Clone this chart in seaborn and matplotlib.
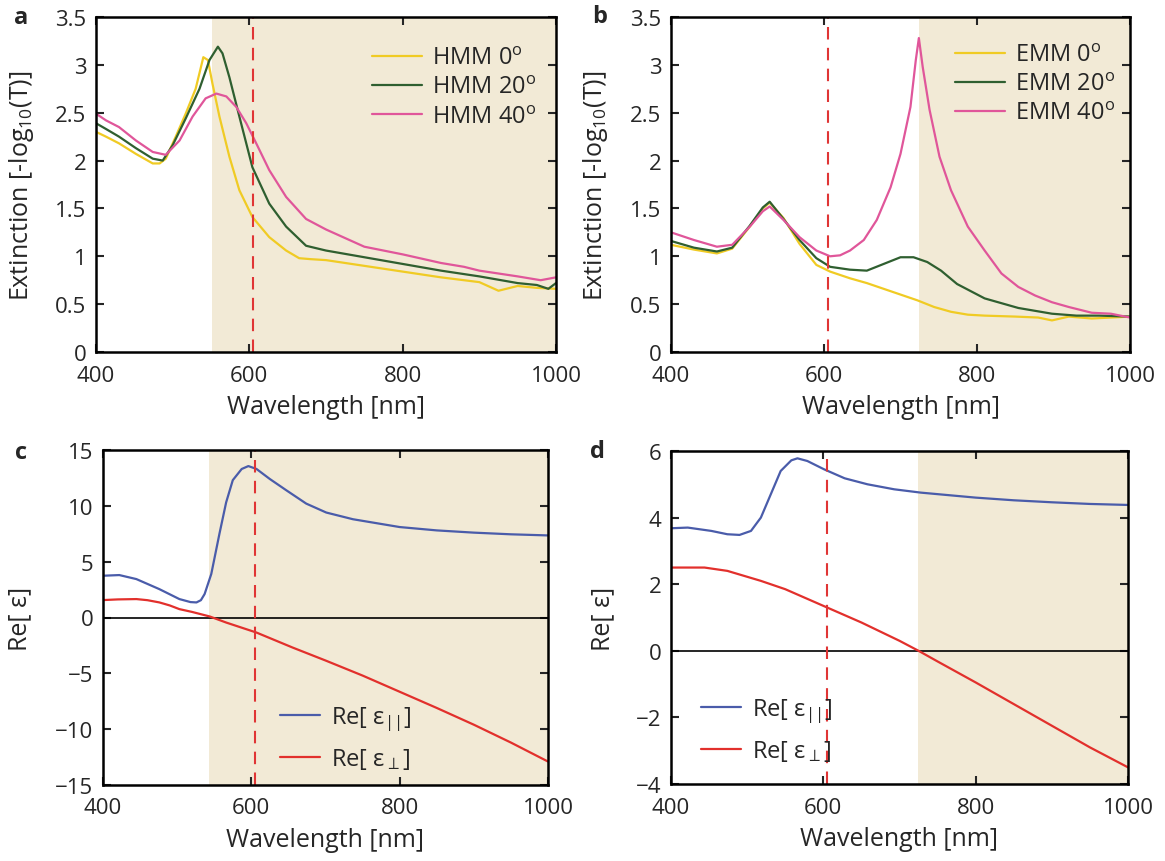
import matplotlib
matplotlib.use("Agg")
import matplotlib.pyplot as plt
import seaborn as sns

# --- panel a: HMM extinction
wl_a = [400, 413, 430, 452, 474, 483, 491, 504, 517, 530, 540, 546, 552, 561, 574, 587, 604, 626, 648, 665,
        680, 700, 750, 800, 850, 900, 925, 950, 975, 1000]
hmm0 = [2.30, 2.25, 2.18, 2.07, 1.97, 1.97, 2.02, 2.25, 2.49, 2.75, 3.08, 3.05, 2.80, 2.46, 2.04, 1.69, 1.41, 1.20, 1.06, 0.98,
        0.97, 0.96, 0.90, 0.84, 0.78, 0.73, 0.64, 0.69, 0.67, 0.66]
wl_a2 = [400, 413, 430, 452, 474, 487, 500, 517, 535, 548, 559, 565, 574, 587, 604, 626, 648, 674, 700, 750,
         800, 850, 900, 950, 975, 990, 1000]
hmm20 = [2.39, 2.33, 2.25, 2.13, 2.02, 2.00, 2.16, 2.44, 2.75, 3.05, 3.19, 3.12, 2.87, 2.46, 1.93, 1.55, 1.31, 1.11, 1.06, 0.99,
         0.92, 0.85, 0.79, 0.72, 0.70, 0.66, 0.72]
wl_a3 = [400, 413, 430, 452, 474, 491, 509, 526, 543, 557, 570, 583, 596, 609, 626, 648, 674, 700, 750, 800,
         850, 880, 900, 950, 980, 1000]
hmm40 = [2.49, 2.42, 2.35, 2.21, 2.09, 2.06, 2.21, 2.46, 2.65, 2.70, 2.67, 2.56, 2.39, 2.18, 1.90, 1.62, 1.39, 1.28, 1.10, 1.02,
         0.93, 0.89, 0.85, 0.79, 0.75, 0.78]

# --- panel b: EMM extinction
wl_b = [400, 430, 460, 480, 503, 520, 529, 547, 568, 590, 608, 634, 656, 678, 700, 722, 744, 766, 788, 810,
        850, 880, 898, 920, 950, 1000]
emm0 = [1.12, 1.07, 1.03, 1.08, 1.31, 1.50, 1.56, 1.40, 1.13, 0.91, 0.84, 0.77, 0.72, 0.66, 0.60, 0.54, 0.47, 0.42, 0.39, 0.38,
        0.37, 0.36, 0.33, 0.37, 0.35, 0.37]
wl_b2 = [400, 430, 460, 480, 503, 520, 529, 547, 568, 590, 608, 634, 656, 678, 700, 717, 735, 753, 774, 810,
         854, 898, 930, 960, 1000]
emm20 = [1.16, 1.09, 1.05, 1.09, 1.32, 1.51, 1.57, 1.39, 1.17, 0.98, 0.89, 0.86, 0.85, 0.92, 0.99, 0.99, 0.94, 0.85, 0.71, 0.56,
         0.46, 0.40, 0.38, 0.38, 0.37]
wl_b3 = [400, 430, 460, 480, 503, 520, 529, 547, 568, 590, 608, 621, 634, 652, 669, 687, 700, 713, 720, 724,
         729, 738, 751, 766, 788, 810, 832, 854, 876, 898, 920, 950, 975, 1000]
emm40 = [1.25, 1.17, 1.10, 1.12, 1.31, 1.47, 1.52, 1.38, 1.20, 1.06, 1.00, 1.01, 1.06, 1.17, 1.38, 1.72, 2.07, 2.56, 3.05, 3.28,
         2.98, 2.53, 2.04, 1.69, 1.31, 1.06, 0.82, 0.68, 0.59, 0.52, 0.47, 0.41, 0.40, 0.36]

# --- panel c: HMM permittivity
wl_c = [400, 422, 445, 476, 503, 518, 526, 532, 537, 546, 557, 566, 575, 587, 596, 607, 625, 647, 674, 701,
        737, 800, 850, 900, 950, 1000]
par_c = [3.74, 3.80, 3.44, 2.54, 1.65, 1.38, 1.35, 1.55, 2.10, 3.90, 7.50, 10.30, 12.30, 13.30, 13.56, 13.30, 12.40, 11.40, 10.20, 9.40,
         8.80, 8.10, 7.80, 7.60, 7.45, 7.35]
wl_c2 = [400, 420, 445, 460, 476, 490, 503, 520, 544, 566, 607, 656, 700, 750, 800, 850, 900, 950, 1000]
perp_c = [1.56, 1.62, 1.65, 1.55, 1.35, 1.08, 0.75, 0.50, 0.09, -0.45, -1.35, -2.70, -3.85, -5.20, -6.65, -8.10, -9.60, -11.20, -12.90]

# --- panel d: EMM permittivity
wl_d = [400, 422, 453, 474, 490, 505, 518, 531, 544, 558, 566, 579, 601, 628, 658, 693, 728, 800, 850, 900,
        950, 1000]
par_d = [3.68, 3.70, 3.60, 3.50, 3.48, 3.60, 4.00, 4.70, 5.40, 5.72, 5.78, 5.70, 5.45, 5.18, 5.00, 4.85, 4.75, 4.60, 4.52, 4.46,
         4.41, 4.38]
wl_d2 = [400, 444, 474, 518, 550, 600, 650, 700, 725, 750, 800, 850, 900, 950, 1000]
perp_d = [2.50, 2.50, 2.40, 2.10, 1.85, 1.35, 0.85, 0.30, 0.00, -0.32, -0.95, -1.60, -2.25, -2.90, -3.50]

shade_start = {"a": 551, "b": 724, "c": 543, "d": 724}
dash_x = 605

sns.set_style("ticks")
plt.rcParams["font.family"] = ["Open Sans", "DejaVu Sans"]
plt.rcParams["mathtext.fontset"] = "custom"
plt.rcParams["mathtext.rm"] = "Open Sans"
plt.rcParams["mathtext.it"] = "Open Sans"
plt.rcParams["xtick.direction"] = "in"
plt.rcParams["ytick.direction"] = "in"

yellow, green, pink = "#f0cb24", "#2f5f30", "#e0569a"
blue, red = "#4a5caa", "#e2302c"
shade = "#f2ead6"

W, H = 1165, 862
fig = plt.figure(figsize=(W / 100, H / 100), dpi=100)


def add_ax(l, t, r, b):
    return fig.add_axes([l / W, 1 - b / H, (r - l) / W, (b - t) / H])


ax_a = add_ax(96, 18, 556, 353)
ax_b = add_ax(671, 18, 1130, 353)
ax_c = add_ax(103, 451, 548, 786)
ax_d = add_ax(671, 452, 1128, 785)


def style(ax, ylim, yticks, yticklabels, ylabel, shade_x, ylab_x):
    ax.axvspan(shade_x, 1000, color=shade, lw=0, zorder=0)
    ax.axvline(dash_x, color="#e03535", ls=(0, (6, 4)), lw=1.5, zorder=3)
    ax.set_xlim(400, 1000)
    ax.set_ylim(*ylim)
    ax.set_xticks([400, 600, 800, 1000])
    ax.set_yticks(yticks)
    ax.set_yticklabels(yticklabels)
    ax.tick_params(labelsize=16, length=6, width=1.5, top=True, right=True)
    ax.tick_params(axis="x", pad=9)
    ax.tick_params(axis="y", pad=7)
    for s in ax.spines.values():
        s.set_linewidth(1.8)
        s.set_color("black")
        s.set_zorder(5)
    ax.set_xlabel("Wavelength [nm]", fontsize=18)
    ax.set_ylabel(ylabel, fontsize=18)
    ax.xaxis.set_label_coords(0.5, -0.125)
    ax.yaxis.set_label_coords(ylab_x, 0.5)


ext_label = "Extinction [-log$_{10}$(T)]"
ext_ticks = [0, 0.5, 1, 1.5, 2, 2.5, 3, 3.5]
ext_tlabels = ["0", "0.5", "1", "1.5", "2", "2.5", "3", "3.5"]
leg_kw = dict(frameon=False, fontsize=17, handlelength=2.1, handletextpad=0.45,
              borderpad=0, borderaxespad=0)

# panel a
for x, y, c, lab in [(wl_a, hmm0, yellow, "HMM 0$^\\mathrm{o}$"), (wl_a2, hmm20, green, "HMM 20$^\\mathrm{o}$"),
                     (wl_a3, hmm40, pink, "HMM 40$^\\mathrm{o}$")]:
    sns.lineplot(x=x, y=y, ax=ax_a, color=c, lw=1.6, label=lab)
style(ax_a, (0, 3.5), ext_ticks, ext_tlabels, ext_label, shade_start["a"], -0.13)
ax_a.legend(loc="center left", bbox_to_anchor=(0.6, 0.79), labelspacing=0.22, **leg_kw)

# panel b
for x, y, c, lab in [(wl_b, emm0, yellow, "EMM 0$^\\mathrm{o}$"), (wl_b2, emm20, green, "EMM 20$^\\mathrm{o}$"),
                     (wl_b3, emm40, pink, "EMM 40$^\\mathrm{o}$")]:
    sns.lineplot(x=x, y=y, ax=ax_b, color=c, lw=1.6, label=lab)
style(ax_b, (0, 3.5), ext_ticks, ext_tlabels, ext_label, shade_start["b"], -0.133)
ax_b.legend(loc="center left", bbox_to_anchor=(0.619, 0.80), labelspacing=0.22, **leg_kw)

# panel c
ax_c.axhline(0, color="black", lw=1.2, zorder=2)
sns.lineplot(x=wl_c, y=par_c, ax=ax_c, color=blue, lw=1.6, label="Re[ ε$_{||}$]")
sns.lineplot(x=wl_c2, y=perp_c, ax=ax_c, color=red, lw=1.6, label="Re[ ε$_{\\perp}$]")
style(ax_c, (-15, 15), [-15, -10, -5, 0, 5, 10, 15], ["\u221215", "\u221210", "\u22125", "0", "5", "10", "15"],
      "Re[ ε]", shade_start["c"], -0.16)
leg = dict(leg_kw, handlelength=1.7)
ax_c.legend(loc="center left", bbox_to_anchor=(0.398, 0.142), labelspacing=0.55, **leg)

# panel d
ax_d.axhline(0, color="black", lw=1.2, zorder=2)
sns.lineplot(x=wl_d, y=par_d, ax=ax_d, color=blue, lw=1.6, label="Re[ ε$_{||}$]")
sns.lineplot(x=wl_d2, y=perp_d, ax=ax_d, color=red, lw=1.6, label="Re[ ε$_{\\perp}$]")
style(ax_d, (-4, 6), [-4, -2, 0, 2, 4, 6], ["\u22124", "\u22122", "0", "2", "4", "6"],
      "Re[ ε]", shade_start["d"], -0.123)
ax_d.legend(loc="center left", bbox_to_anchor=(0.066, 0.162), labelspacing=0.55, **leg)

# panel letters
for letter, (px, py) in {"a": (21, 18), "b": (600, 17), "c": (21, 453), "d": (597, 452)}.items():
    fig.text(px / W, 1 - py / H, letter, fontsize=17, fontweight="bold", ha="center", va="center")

fig.savefig("out.png", dpi=100)
